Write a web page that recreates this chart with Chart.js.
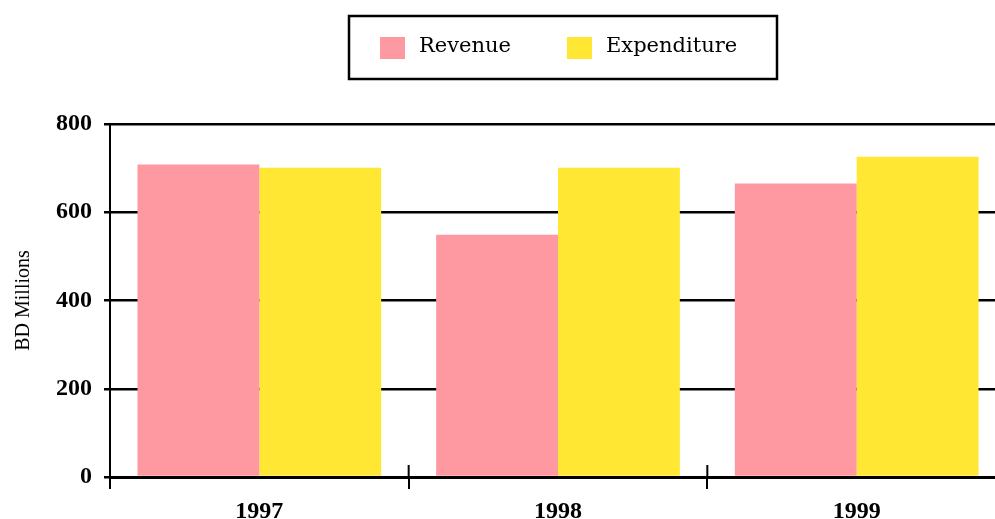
<!DOCTYPE html>
<html>
<head>
<meta charset="utf-8">
<script src="https://cdn.jsdelivr.net/npm/chart.js@4.4.0/dist/chart.umd.min.js"></script>
<style>
  html, body { margin: 0; padding: 0; background: #fff; overflow: hidden; }
  #wrap { width: 995px; height: 519px; overflow: hidden; }
</style>
</head>
<body>
<div id="wrap"><canvas id="budgetChart" width="1010" height="519"></canvas></div>
<script>
const years = ['1997', '1998', '1999'];
const revenue = [708, 549, 665];
const expenditure = [701, 701, 726];
const yTicks = [0, 200, 400, 600, 800];

const tickFont = { family: 'Liberation Serif', size: 24, weight: 'bold' };

// legend drawn as a framed box above the plot
const boxLegend = {
  id: 'boxLegend',
  afterDraw(chart) {
    const ctx = chart.ctx;
    ctx.save();
    ctx.lineWidth = 2.5;
    ctx.strokeStyle = '#000';
    ctx.strokeRect(349, 16, 428, 63);
    ctx.font = '21px "DejaVu Serif"';
    ctx.textBaseline = 'middle';
    let x = 380;
    chart.data.datasets.forEach(ds => {
      ctx.fillStyle = ds.backgroundColor;
      ctx.fillRect(x, 37, 25, 22);
      ctx.fillStyle = '#000';
      ctx.fillText(ds.label, x + 39, 47);
      x += 39 + ctx.measureText(ds.label).width + 56;
    });
    ctx.restore();
  }
};

// small tick marks above the x axis between the year groups
const innerTicks = {
  id: 'innerTicks',
  afterDraw(chart) {
    const xs = chart.scales.x;
    const ctx = chart.ctx;
    const step = xs.width / years.length;
    ctx.save();
    ctx.strokeStyle = '#000';
    ctx.lineWidth = 2;
    for (let i = 1; i < years.length; i++) {
      const px = xs.getPixelForValue(i) - step / 2;
      ctx.beginPath();
      ctx.moveTo(px, xs.top - 12);
      ctx.lineTo(px, xs.top);
      ctx.stroke();
    }
    ctx.restore();
  }
};

const ctx = document.getElementById('budgetChart').getContext('2d');
const budgetChart = new Chart(ctx, {
  type: 'bar',
  data: {
    labels: years,
    datasets: [
      { label: 'Revenue', data: revenue, backgroundColor: '#FF99A1' },
      { label: 'Expenditure', data: expenditure, backgroundColor: '#FFE733' }
    ]
  },
  options: {
    responsive: false,
    animation: false,
    devicePixelRatio: 1,
    categoryPercentage: 0.816,
    barPercentage: 1.0,
    layout: { padding: { top: 124, right: 4, left: 0, bottom: 0 } },
    plugins: {
      legend: { display: false },
      tooltip: { enabled: false }
    },
    scales: {
      x: {
        ticks: { font: tickFont, color: '#000', padding: 8 },
        grid: { offset: true, drawOnChartArea: false, color: '#000', lineWidth: 2, tickLength: 12 },
        border: { color: '#000', width: 3 },
        afterFit(scale) { scale.height = 42; }
      },
      y: {
        min: 0,
        max: 800,
        afterBuildTicks(scale) { scale.ticks = yTicks.map(v => ({ value: v })); },
        ticks: { font: tickFont, color: '#000', padding: 12 },
        grid: { color: '#000', lineWidth: 2.5, tickLength: 6 },
        border: { color: '#000', width: 2 },
        title: {
          display: true,
          text: 'BD Millions',
          font: { family: 'Liberation Serif', size: 20 },
          color: '#000',
          padding: { top: 12, bottom: 0 }
        },
        afterFit(scale) { scale.width = 110; }
      }
    }
  },
  plugins: [boxLegend, innerTicks]
});
</script>
</body>
</html>
